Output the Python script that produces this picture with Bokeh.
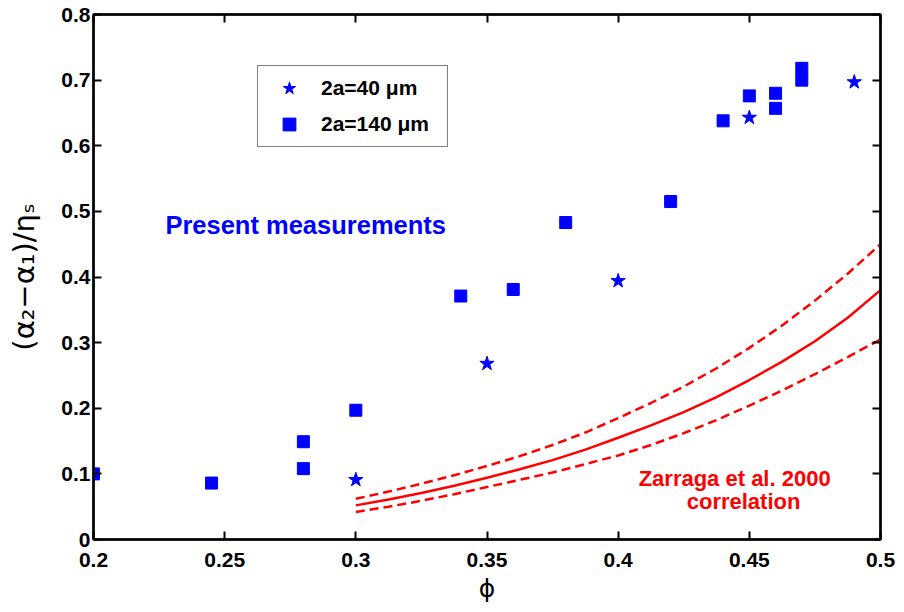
from bokeh.plotting import figure
from bokeh.models import (FixedTicker, NumeralTickFormatter, LinearAxis, Legend, LegendItem,
                          Range1d, Label)
from bokeh.embed import file_html
from bokeh.resources import INLINE

# --- data ---
phi_140 = [0.20, 0.245, 0.28, 0.28, 0.30, 0.34, 0.36, 0.38, 0.42, 0.44, 0.45, 0.46, 0.46, 0.47, 0.47]
val_140 = [0.100, 0.086, 0.149, 0.108, 0.197, 0.371, 0.381, 0.483, 0.515, 0.638, 0.676, 0.657, 0.680, 0.718, 0.700]
phi_40 = [0.30, 0.35, 0.40, 0.45, 0.49]
val_40 = [0.091, 0.268, 0.394, 0.643, 0.697]

phi_corr = [0.30, 0.3125, 0.325, 0.3375, 0.35, 0.3625, 0.375, 0.3875, 0.40,
            0.4125, 0.425, 0.4375, 0.45, 0.4625, 0.475, 0.4875, 0.50]
corr_mid = [0.052, 0.061, 0.071, 0.082, 0.094, 0.107, 0.121, 0.137, 0.155,
            0.174, 0.194, 0.217, 0.243, 0.271, 0.302, 0.338, 0.380]
corr_up = [0.062, 0.073, 0.085, 0.098, 0.112, 0.127, 0.144, 0.163, 0.185,
           0.208, 0.233, 0.261, 0.292, 0.326, 0.364, 0.405, 0.450]
corr_lo = [0.042, 0.050, 0.059, 0.069, 0.080, 0.091, 0.102, 0.115, 0.128,
           0.144, 0.162, 0.182, 0.204, 0.227, 0.252, 0.278, 0.305]

x_ticks = [0.2, 0.25, 0.3, 0.35, 0.4, 0.45, 0.5]
y_ticks = [0, 0.1, 0.2, 0.3, 0.4, 0.5, 0.6, 0.7, 0.8]

FONT = "Liberation Sans"

p = figure(width=896, height=610, output_backend="svg", toolbar_location=None,
           x_range=Range1d(0.2, 0.5), y_range=Range1d(0, 0.8),
           min_border_left=93, min_border_right=16, min_border_top=14, min_border_bottom=71)
p.grid.visible = False
p.outline_line_color = "black"
p.outline_line_width = 2
p.background_fill_color = "white"
p.border_fill_color = "white"

def style_axis(ax):
    ax.major_tick_in = 8
    ax.major_tick_out = 0
    ax.minor_tick_line_color = None
    ax.axis_line_width = 2.5
    ax.major_tick_line_width = 2
    ax.major_label_text_font = FONT
    ax.major_label_text_font_style = "bold"
    ax.major_label_text_font_size = "21px"
    ax.major_label_text_color = "black"

style_axis(p.xaxis[0])
style_axis(p.yaxis[0])
p.xaxis[0].ticker = FixedTicker(ticks=x_ticks)
p.yaxis[0].ticker = FixedTicker(ticks=y_ticks)
p.xaxis[0].formatter = NumeralTickFormatter(format="0.[00]")
p.yaxis[0].formatter = NumeralTickFormatter(format="0.[0]")
p.xaxis[0].major_label_standoff = 13
p.yaxis[0].major_label_standoff = 3
p.xaxis[0].axis_label = "ϕ"
p.yaxis[0].axis_label = "(α₂−α₁)/ηₛ"
for ax in (p.xaxis[0], p.yaxis[0]):
    ax.axis_label_text_font = "DejaVu Sans"
    ax.axis_label_text_font_style = "normal"
    ax.axis_label_text_color = "black"
p.xaxis[0].axis_label_text_font_size = "25px"
p.xaxis[0].axis_label_standoff = 4
p.yaxis[0].axis_label_text_font_size = "29px"
p.yaxis[0].axis_label_standoff = 17

right_ax = LinearAxis(ticker=FixedTicker(ticks=y_ticks),
                      major_label_overrides={t: "" for t in y_ticks})
top_ax = LinearAxis(ticker=FixedTicker(ticks=x_ticks),
                    major_label_overrides={t: "" for t in x_ticks})
for ax in (right_ax, top_ax):
    style_axis(ax)
    ax.major_label_text_font_size = "1px"
    ax.major_label_standoff = 0
p.add_layout(right_ax, "right")
p.add_layout(top_ax, "above")

# correlation lines
p.line(phi_corr, corr_mid, line_color="red", line_width=2.5)
p.line(phi_corr, corr_up, line_color="red", line_width=2.5, line_dash="9 5")
p.line(phi_corr, corr_lo, line_color="red", line_width=2.5, line_dash="9 5")

# data markers
r40 = p.scatter(phi_40, val_40, marker="star", size=15, fill_color="blue", line_color="blue")
r140 = p.scatter(phi_140, val_140, marker="square", size=12, fill_color="blue", line_color="blue")

legend = Legend(items=[LegendItem(label="2a=40 μm", renderers=[r40]),
                       LegendItem(label="2a=140 μm", renderers=[r140])],
                location=(164, 392))
legend.label_text_font = FONT
legend.label_text_font_style = "bold"
legend.label_text_font_size = "21px"
legend.label_text_color = "black"
legend.border_line_color = "black"
legend.border_line_width = 1.5
legend.padding = 6
legend.spacing = 4
legend.label_standoff = 7
legend.glyph_width = 50
legend.glyph_height = 32
legend.label_height = 32
legend.label_width = 120
legend.margin = 0
legend.background_fill_alpha = 1
p.add_layout(legend, "center")

p.add_layout(Label(x=0.2274, y=0.4785, text="Present measurements", text_color="blue",
                   text_font=FONT, text_font_style="bold", text_font_size="25.5px",
                   text_baseline="middle"))
p.add_layout(Label(x=0.4444, y=0.0936, text="Zarraga et al. 2000", text_color="red",
                   text_font=FONT, text_font_style="bold", text_font_size="22px",
                   text_align="center", text_baseline="middle"))
p.add_layout(Label(x=0.4478, y=0.0574, text="correlation", text_color="red",
                   text_font=FONT, text_font_style="bold", text_font_size="22px",
                   text_align="center", text_baseline="middle"))

open("out.html", "w").write(file_html(p, INLINE))
